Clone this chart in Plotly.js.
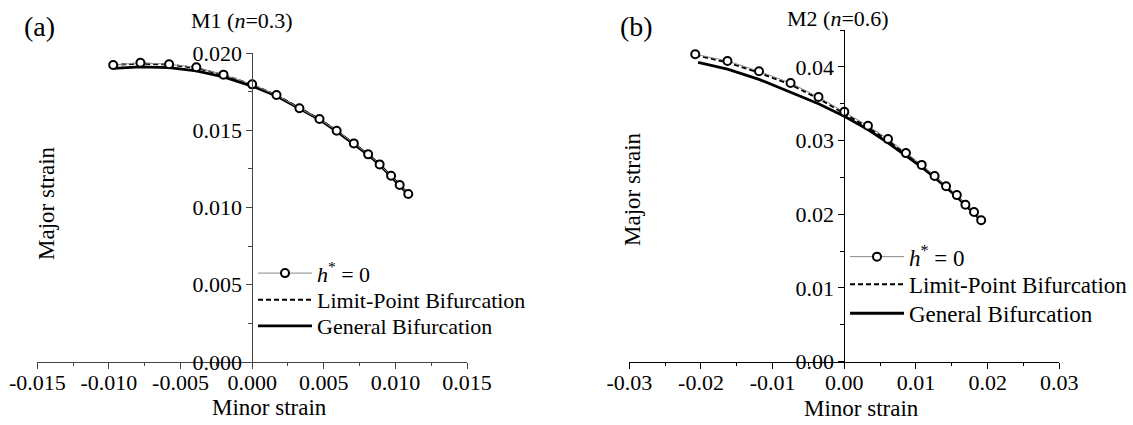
<!DOCTYPE html>
<html>
<head>
<meta charset="utf-8">
<script src="https://cdn.plot.ly/plotly-3.0.1.min.js"></script>
<style>html,body{margin:0;padding:0;background:#fff}#chart{width:1133px;height:425px}</style>
</head>
<body>
<div id="chart"></div>
<script>
// ---- Panel (a): M1 (n=0.3) ----
const aMinor = [-0.0097, -0.0078, -0.0058, -0.0039, -0.0020, 0.0000, 0.0017, 0.0033, 0.0047, 0.0059, 0.0071, 0.0081, 0.0089, 0.0097, 0.0103, 0.0109];
const aHstar = [0.01922, 0.01937, 0.01927, 0.01907, 0.01860, 0.01797, 0.01728, 0.01642, 0.01573, 0.01497, 0.01415, 0.01344, 0.01279, 0.01206, 0.01146, 0.01087];
const aLimit = [0.01922, 0.01932, 0.01925, 0.01903, 0.01858, 0.01795, 0.01727, 0.01642, 0.01572, 0.01496, 0.01415, 0.01343, 0.01278, 0.01206, 0.01146, 0.01087];
const aGeneral = [0.01901, 0.01910, 0.01905, 0.01885, 0.01845, 0.01786, 0.01722, 0.01638, 0.01569, 0.01493, 0.01412, 0.01341, 0.01276, 0.01203, 0.01143, 0.01084];

// ---- Panel (b): M2 (n=0.6) ----
const bMinor = [-0.0208, -0.0163, -0.0119, -0.0075, -0.0036, 0.0000, 0.0033, 0.0061, 0.0086, 0.0108, 0.0126, 0.0142, 0.0157, 0.0169, 0.0181, 0.0191];
const bHstar = [0.0417, 0.0408, 0.0394, 0.0378, 0.0359, 0.0339, 0.0320, 0.0302, 0.0283, 0.0267, 0.0252, 0.0238, 0.0226, 0.0213, 0.0203, 0.0192];
const bLimit = [0.0416, 0.0406, 0.0392, 0.0376, 0.0357, 0.0337, 0.0318, 0.0300, 0.0282, 0.0266, 0.0251, 0.0237, 0.0225, 0.0212, 0.0202, 0.0191];
const bGenMinor = [-0.0204, -0.0163, -0.0119, -0.0075, -0.0036, 0.0000, 0.0033, 0.0061, 0.0086, 0.0108, 0.0126, 0.0142, 0.0157, 0.0169, 0.0181, 0.0191];
const bGeneral = [0.0406, 0.0397, 0.0383, 0.0366, 0.0350, 0.0333, 0.0315, 0.0297, 0.0280, 0.0264, 0.0250, 0.0237, 0.0224, 0.0212, 0.0202, 0.0191];

// ---- Tick labels ----
const aXTicks = [-0.015, -0.010, -0.005, 0.000, 0.005, 0.010, 0.015];
const aXText = ["-0.015", "-0.010", "-0.005", "0.000", "0.005", "0.010", "0.015"];
const aYTicks = [0.000, 0.005, 0.010, 0.015, 0.020];
const aYText = ["0.000", "0.005", "0.010", "0.015", "0.020"];
const bXTicks = [-0.03, -0.02, -0.01, 0.00, 0.01, 0.02, 0.03];
const bXText = ["-0.03", "-0.02", "-0.01", "0.00", "0.01", "0.02", "0.03"];
const bYTicks = [0.00, 0.01, 0.02, 0.03, 0.04];
const bYText = ["0.00", "0.01", "0.02", "0.03", "0.04"];

const legendNames = ["<i>h</i><sup>*</sup> = 0", "Limit-Point Bifurcation", "General Bifurcation"];

const FONT = "Liberation Serif, Times New Roman, serif";
const W = 1133, H = 425;
const px = v => v / W;
const py = v => (H - v) / H;

// legs: [hstar legend, limit legend, general legend]
function traces(xs, ys, yl, gx, yg, xa, ya, legs) {
  return [
    {x: gx, y: yg, xaxis: xa, yaxis: ya, legend: legs[2], name: legendNames[2], mode: 'lines', type: 'scatter',
     line: {color: '#000', width: 2.8}},
    {x: xs, y: yl, xaxis: xa, yaxis: ya, legend: legs[1], name: legendNames[1], mode: 'lines', type: 'scatter',
     line: {color: '#000', width: 2, dash: '5px,3px'}},
    {x: xs, y: ys, xaxis: xa, yaxis: ya, legend: legs[0], name: legendNames[0], mode: 'lines+markers', type: 'scatter',
     line: {color: '#888', width: 1},
     marker: {symbol: 'circle', size: 8, color: '#fff', line: {color: '#000', width: 2}}}
  ];
}

const data = [
  ...traces(aMinor, aHstar, aLimit, aMinor, aGeneral, 'x', 'y', ['legend', 'legend2', 'legend3']),
  ...traces(bMinor, bHstar, bLimit, bGenMinor, bGeneral, 'x2', 'y2', ['legend4', 'legend5', 'legend6'])
];

function xaxis(domain, range, tv, tt, minorD, anchor, color) {
  return {domain, range, anchor, tickmode: 'array', tickvals: tv, ticktext: tt,
    ticks: 'outside', ticklen: 6, tickwidth: 1, tickcolor: color, ticklabelstandoff: -5,
    showline: true, linecolor: color, linewidth: 1, showgrid: false, zeroline: false,
    tickfont: {family: FONT, size: 22, color: '#000'},
    minor: {tickmode: 'linear', tick0: 0, dtick: minorD, ticks: 'outside', ticklen: 3, tickcolor: color, showgrid: false},
    fixedrange: true};
}
function yaxis(domain, range, tv, tt, minorD, pos, color) {
  return {domain, range, anchor: 'free', position: pos, side: 'left', tickmode: 'array', tickvals: tv, ticktext: tt,
    ticks: 'outside', ticklen: 6, tickwidth: 1, tickcolor: color,
    showline: true, linecolor: color, linewidth: 1, showgrid: false, zeroline: false,
    tickfont: {family: FONT, size: 22, color: '#000'},
    minor: {tickmode: 'linear', tick0: 0, dtick: minorD, ticks: 'outside', ticklen: 4, tickcolor: color, showgrid: false},
    fixedrange: true};
}

const leg = (xPx, yPx, size) => ({x: px(xPx), y: py(yPx), xanchor: 'left', yanchor: 'middle', bgcolor: 'rgba(0,0,0,0)',
  font: {family: FONT, size, color: '#000'}, itemwidth: 54, tracegroupgap: 0});

const ann = (text, x, y, size, extra) => Object.assign({text, x, y, xref: 'paper', yref: 'paper', showarrow: false,
  xanchor: 'center', yanchor: 'middle', font: {family: FONT, size, color: '#000'}}, extra || {});

const layout = {
  width: W, height: H,
  margin: {l: 0, r: 0, t: 0, b: 0},
  paper_bgcolor: '#fff', plot_bgcolor: 'rgba(0,0,0,0)',
  font: {family: FONT, color: '#000'},
  xaxis: xaxis([px(37.3), px(467)], [-0.015, 0.015], aXTicks, aXText, 0.0025, 'y', '#444'),
  yaxis: yaxis([py(362), py(53)], [0, 0.020], aYTicks, aYText, 0.0025, px(252.3), '#444'),
  xaxis2: xaxis([px(629.3), px(1059.3)], [-0.03, 0.03], bXTicks, bXText, 0.005, 'y2', '#000'),
  yaxis2: yaxis([py(361.7), py(30)], [0, 0.045], bYTicks, bYText, 0.005, px(844.3), '#000'),
  showlegend: true,
  legend: leg(253, 273.3, 22),
  legend2: leg(253, 300, 22),
  legend3: leg(253, 326, 22),
  legend4: leg(845, 256.7, 23),
  legend5: leg(845, 284.3, 23),
  legend6: leg(845, 313.3, 23),
  annotations: [
    ann('(a)', px(39.7), py(27), 28),
    ann('(b)', px(636.7), py(27), 28),
    ann('M1 (<i>n</i>=0.3)', px(242), py(20), 22),
    ann('M2 (<i>n</i>=0.6)', px(837.5), py(18), 22),
    ann('Minor strain', px(269.5), py(407), 23),
    ann('Minor strain', px(861.5), py(408), 23),
    ann('Major strain', px(46), py(203), 23, {textangle: -90}),
    ann('Major strain', px(632), py(189), 23, {textangle: -90})
  ]
};

Plotly.newPlot('chart', data, layout, {displayModeBar: false, staticPlot: true});
</script>
</body>
</html>
